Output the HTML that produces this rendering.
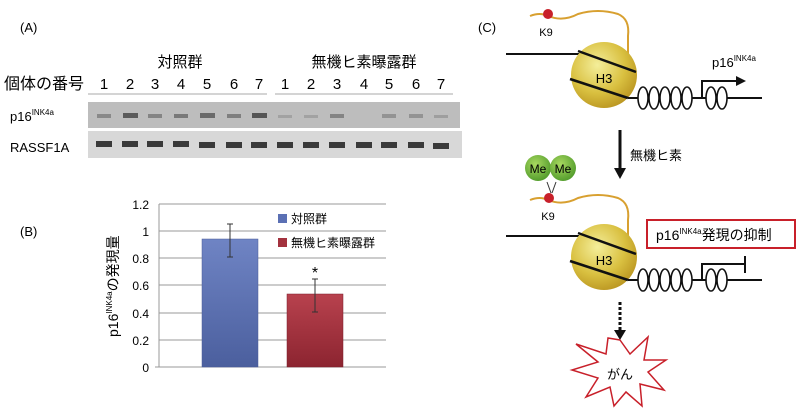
<!DOCTYPE html><html><head><meta charset="utf-8"><style>body{margin:0;background:#fff}svg{display:block;font-family:"Liberation Sans","Noto Sans CJK JP",sans-serif}</style></head><body>
<svg width="800" height="413" viewBox="0 0 800 413">
<defs>
<radialGradient id="ball" cx="0.4" cy="0.35" r="0.7"><stop offset="0" stop-color="#f4ee9a"/><stop offset="0.6" stop-color="#d9c040"/><stop offset="1" stop-color="#b99420"/></radialGradient>
<radialGradient id="me" cx="0.4" cy="0.35" r="0.7"><stop offset="0" stop-color="#a8d860"/><stop offset="1" stop-color="#4f9a2a"/></radialGradient>
<linearGradient id="bl" x1="0" y1="0" x2="0" y2="1"><stop offset="0" stop-color="#6f84c4"/><stop offset="1" stop-color="#4b5f9e"/></linearGradient>
<linearGradient id="rd" x1="0" y1="0" x2="0" y2="1"><stop offset="0" stop-color="#b8424e"/><stop offset="1" stop-color="#8c2430"/></linearGradient>
</defs>
<!-- A -->
<text x="20" y="32" font-size="13">(A)</text>
<text x="180" y="67" font-size="15" text-anchor="middle">対照群</text>
<text x="364" y="67" font-size="15" text-anchor="middle">無機ヒ素曝露群</text>
<text x="4" y="89" font-size="16">個体の番号</text>
<g font-size="15" text-anchor="middle">
<text x="104" y="89">1</text><text x="130" y="89">2</text><text x="155" y="89">3</text><text x="181" y="89">4</text><text x="207" y="89">5</text><text x="234" y="89">6</text><text x="259" y="89">7</text>
<text x="285" y="89">1</text><text x="311" y="89">2</text><text x="337" y="89">3</text><text x="364" y="89">4</text><text x="389" y="89">5</text><text x="416" y="89">6</text><text x="441" y="89">7</text></g>
<line x1="88" y1="94" x2="267" y2="94" stroke="#aaa"/><line x1="275" y1="94" x2="453" y2="94" stroke="#aaa"/>
<rect x="88" y="102" width="372" height="26" fill="#bdbdbd"/>
<rect x="88" y="131" width="374" height="27" fill="#d8d8d8"/>
<g fill="#555">
<rect x="97" y="114" width="14" height="4" opacity=".5"/><rect x="123" y="113" width="15" height="5" opacity=".95"/><rect x="148" y="114" width="14" height="4" opacity=".55"/><rect x="174" y="114" width="14" height="4" opacity=".65"/><rect x="200" y="113" width="15" height="5" opacity=".8"/><rect x="227" y="114" width="14" height="4" opacity=".6"/><rect x="252" y="113" width="15" height="5" opacity="1"/>
<rect x="278" y="115" width="14" height="3" opacity=".25"/><rect x="304" y="115" width="14" height="3" opacity=".25"/><rect x="330" y="114" width="14" height="4" opacity=".55"/><rect x="382" y="114" width="14" height="4" opacity=".4"/><rect x="409" y="114" width="14" height="4" opacity=".4"/><rect x="434" y="115" width="14" height="3" opacity=".3"/>
</g>
<g fill="#3a3a3a">
<rect x="96" y="141" width="16" height="6"/><rect x="122" y="141" width="16" height="6"/><rect x="147" y="141" width="16" height="6"/><rect x="173" y="141" width="16" height="6"/><rect x="199" y="142" width="16" height="6"/><rect x="226" y="142" width="16" height="6"/><rect x="251" y="142" width="16" height="6"/>
<rect x="277" y="142" width="16" height="6"/><rect x="303" y="142" width="16" height="6"/><rect x="329" y="142" width="16" height="6"/><rect x="356" y="142" width="16" height="6"/><rect x="381" y="142" width="16" height="6"/><rect x="408" y="142" width="16" height="6"/><rect x="433" y="143" width="16" height="6"/></g>
<text x="10" y="121" font-size="13">p16<tspan font-size="8" dy="-6">INK4a</tspan></text>
<text x="10" y="152" font-size="13">RASSF1A</text>
<!-- B -->
<text x="20" y="236" font-size="13">(B)</text>
<g stroke="#999" stroke-width="1">
<line x1="159" y1="204" x2="386" y2="204"/><line x1="159" y1="231" x2="386" y2="231"/><line x1="159" y1="258" x2="386" y2="258"/><line x1="159" y1="285" x2="386" y2="285"/><line x1="159" y1="313" x2="386" y2="313"/><line x1="159" y1="340" x2="386" y2="340"/><line x1="155" y1="367" x2="386" y2="367"/><line x1="159" y1="204" x2="159" y2="367"/></g>
<g font-size="12" text-anchor="end">
<text x="149" y="209">1.2</text><text x="149" y="236">1</text><text x="149" y="263">0.8</text><text x="149" y="290">0.6</text><text x="149" y="318">0.4</text><text x="149" y="345">0.2</text><text x="149" y="372">0</text></g>
<rect x="202" y="239" width="56" height="128" fill="url(#bl)" stroke="#4a5c98" stroke-width=".5"/>
<rect x="287" y="294" width="56" height="73" fill="url(#rd)" stroke="#7a1f2a" stroke-width=".5"/>
<g stroke="#333"><line x1="230" y1="224" x2="230" y2="257"/><line x1="227" y1="224" x2="233" y2="224"/><line x1="227" y1="257" x2="233" y2="257"/>
<line x1="315" y1="279" x2="315" y2="312"/><line x1="312" y1="279" x2="318" y2="279"/><line x1="312" y1="312" x2="318" y2="312"/></g>
<text x="315" y="278" font-size="16" text-anchor="middle">*</text>
<rect x="278" y="214" width="9" height="9" fill="#5b70b4"/><text x="291" y="223" font-size="12">対照群</text>
<rect x="278" y="238" width="9" height="9" fill="#a3323e"/><text x="291" y="247" font-size="12">無機ヒ素曝露群</text>
<text transform="translate(118,337) rotate(-90)" font-size="14">p16<tspan font-size="8" dy="-6">INK4a</tspan><tspan dy="6">の発現量</tspan></text>
<!-- C -->
<text x="478" y="32" font-size="13">(C)</text>
<path d="M530 16 q10 -4 18 0 q15 6 30 -2 q20 -6 40 0 q12 5 10 22 l0 20" fill="none" stroke="#d8a030" stroke-width="2"/>
<circle cx="548" cy="14" r="5" fill="#c8202a"/>
<text x="546" y="36" font-size="11" text-anchor="middle">K9</text>
<line x1="506" y1="54" x2="580" y2="54" stroke="#111" stroke-width="2"/>
<circle cx="604" cy="75" r="33" fill="url(#ball)"/>
<line x1="578" y1="51" x2="636" y2="72" stroke="#111" stroke-width="2.5"/>
<line x1="570" y1="79" x2="628" y2="98" stroke="#111" stroke-width="2.5"/>
<text x="604" y="83" font-size="13" text-anchor="middle">H3</text>
<line x1="628" y1="98" x2="762" y2="98" stroke="#111" stroke-width="2"/>
<g fill="#fff" stroke="#111" stroke-width="1.6">
<ellipse cx="643" cy="98" rx="5" ry="11"/><ellipse cx="654" cy="98" rx="5" ry="11"/><ellipse cx="665" cy="98" rx="5" ry="11"/><ellipse cx="676" cy="98" rx="5" ry="11"/><ellipse cx="687" cy="98" rx="5" ry="11"/><ellipse cx="711" cy="98" rx="5" ry="11"/><ellipse cx="722" cy="98" rx="5" ry="11"/></g>
<path d="M702 98 V81 H738" fill="none" stroke="#111" stroke-width="2"/><path d="M736 76 L746 81 L736 86Z" fill="#111"/>
<text x="712" y="67" font-size="13">p16<tspan font-size="8" dy="-6">INK4a</tspan></text>
<line x1="620" y1="130" x2="620" y2="170" stroke="#111" stroke-width="3"/><path d="M614 168 L620 179 L626 168Z" fill="#111"/>
<text x="630" y="160" font-size="13">無機ヒ素</text>
<line x1="547" y1="182" x2="551" y2="193" stroke="#333"/><line x1="556" y1="182" x2="552" y2="193" stroke="#333"/>
<circle cx="538" cy="168" r="13" fill="url(#me)"/><circle cx="563" cy="168" r="13" fill="url(#me)"/>
<text x="538" y="173" font-size="12" text-anchor="middle">Me</text><text x="563" y="173" font-size="12" text-anchor="middle">Me</text>
<path d="M530 200 q10 -4 18 0 q15 6 30 -2 q20 -6 40 0 q12 5 10 22 l0 18" fill="none" stroke="#d8a030" stroke-width="2"/>
<circle cx="549" cy="198" r="5" fill="#c8202a"/>
<text x="548" y="220" font-size="11" text-anchor="middle">K9</text>
<line x1="506" y1="236" x2="580" y2="236" stroke="#111" stroke-width="2"/>
<circle cx="604" cy="257" r="33" fill="url(#ball)"/>
<line x1="578" y1="233" x2="636" y2="254" stroke="#111" stroke-width="2.5"/>
<line x1="570" y1="261" x2="628" y2="280" stroke="#111" stroke-width="2.5"/>
<text x="604" y="265" font-size="13" text-anchor="middle">H3</text>
<line x1="628" y1="280" x2="762" y2="280" stroke="#111" stroke-width="2"/>
<g fill="#fff" stroke="#111" stroke-width="1.6">
<ellipse cx="643" cy="280" rx="5" ry="11"/><ellipse cx="654" cy="280" rx="5" ry="11"/><ellipse cx="665" cy="280" rx="5" ry="11"/><ellipse cx="676" cy="280" rx="5" ry="11"/><ellipse cx="687" cy="280" rx="5" ry="11"/><ellipse cx="711" cy="280" rx="5" ry="11"/><ellipse cx="722" cy="280" rx="5" ry="11"/></g>
<path d="M702 280 V264 H745 M745 256 V273" fill="none" stroke="#111" stroke-width="2"/>
<rect x="647" y="220" width="148" height="28" fill="#fff" stroke="#c8202a" stroke-width="2"/>
<text x="656" y="240" font-size="14">p16<tspan font-size="8" dy="-6">INK4a</tspan><tspan dy="6">発現の抑制</tspan></text>
<line x1="620" y1="302" x2="620" y2="330" stroke="#111" stroke-width="3" stroke-dasharray="3,2"/><path d="M614 330 L620 340 L626 330Z" fill="#111"/>
<polygon points="620,340 630,354 648,337 644,360 666,360 648,372 664,390 640,384 642,406 626,392 614,406 610,387 586,397 598,378 572,370 598,362 576,344 606,354 608,338" fill="#fff" stroke="#c8202a" stroke-width="1.5"/>
<text x="620" y="379" font-size="13" text-anchor="middle">がん</text>
</svg></body></html>
